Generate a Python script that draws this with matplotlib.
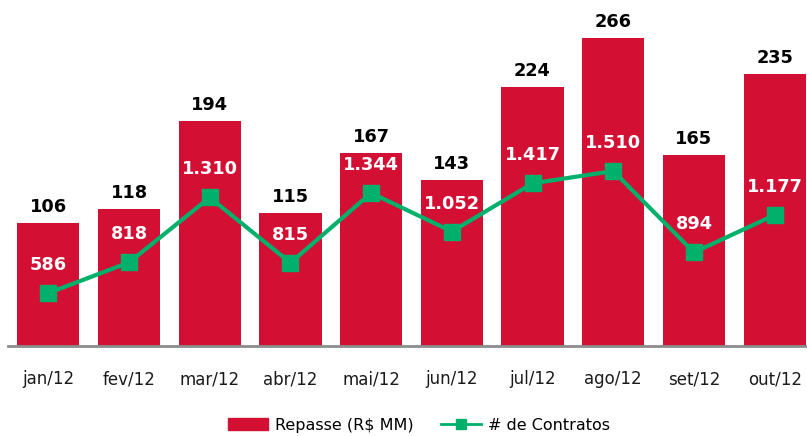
import matplotlib
matplotlib.use("Agg")
import matplotlib.pyplot as plt
from matplotlib.lines import Line2D
from matplotlib.patches import Patch

categories = ["jan/12", "fev/12", "mar/12", "abr/12", "mai/12", "jun/12", "jul/12", "ago/12", "set/12", "out/12"]
repasse = [106, 118, 194, 115, 167, 143, 224, 266, 165, 235]
contratos = [586, 818, 1310, 815, 1344, 1052, 1417, 1510, 894, 1177]
contratos_labels = ["586", "818", "1.310", "815", "1.344", "1.052", "1.417", "1.510", "894", "1.177"]

RED = "#D31034"
GREEN = "#00B06B"

W, H = 807, 436
fig = plt.figure(figsize=(W / 100, H / 100), dpi=100)
left, right = 8 / W, 815 / W
bottom = 1 - 346 / H
top = 1 - 1 / H
ax = fig.add_axes([left, bottom, right - left, top - bottom])
x = list(range(len(categories)))
ax.bar(x, repasse, width=0.77, color=RED, zorder=2)
ax.set_xlim(-0.5, len(categories) - 0.5)
ax.set_ylim(0, 298)
for s in ["top", "right", "left"]:
    ax.spines[s].set_visible(False)
ax.spines["bottom"].set_color("#8C8C8C")
ax.spines["bottom"].set_linewidth(2)
ax.set_yticks([])
ax.set_xticks(x)
ax.set_xticklabels(categories, fontsize=12, color="#1a1a1a")
ax.tick_params(axis="x", length=0, pad=17.5)
for xi, v in zip(x, repasse):
    ax.annotate(str(v), (xi, v), xytext=(0, 7), textcoords="offset pixels",
                ha="center", va="bottom", fontsize=12.8, fontweight="bold", color="black")

ax2 = ax.twinx()
ax2.plot(x, contratos, color=GREEN, lw=3, marker="s", markersize=11.5, zorder=3)
ax2.set_ylim(185, 2798)
ax2.set_yticks([])
for s in ["top", "right", "left", "bottom"]:
    ax2.spines[s].set_visible(False)
for xi, v, lab in zip(x, contratos, contratos_labels):
    ax2.annotate(lab, (xi, v), xytext=(0, 19), textcoords="offset pixels",
                 ha="center", va="bottom", fontsize=12.8, fontweight="bold", color="white")

handles = [Patch(facecolor=RED, edgecolor=RED),
           Line2D([0], [0], color=GREEN, lw=2, marker="s", markersize=6.5)]
fig.legend(handles, ["Repasse (R$ MM)", "# de Contratos"], loc="center",
           bbox_to_anchor=(419 / W, 1 - 425 / H), ncol=2, frameon=False,
           fontsize=11.5, handlelength=2.5, handleheight=0.8, columnspacing=1.7,
           handletextpad=0.45)

fig.savefig("out.png", dpi=100)
